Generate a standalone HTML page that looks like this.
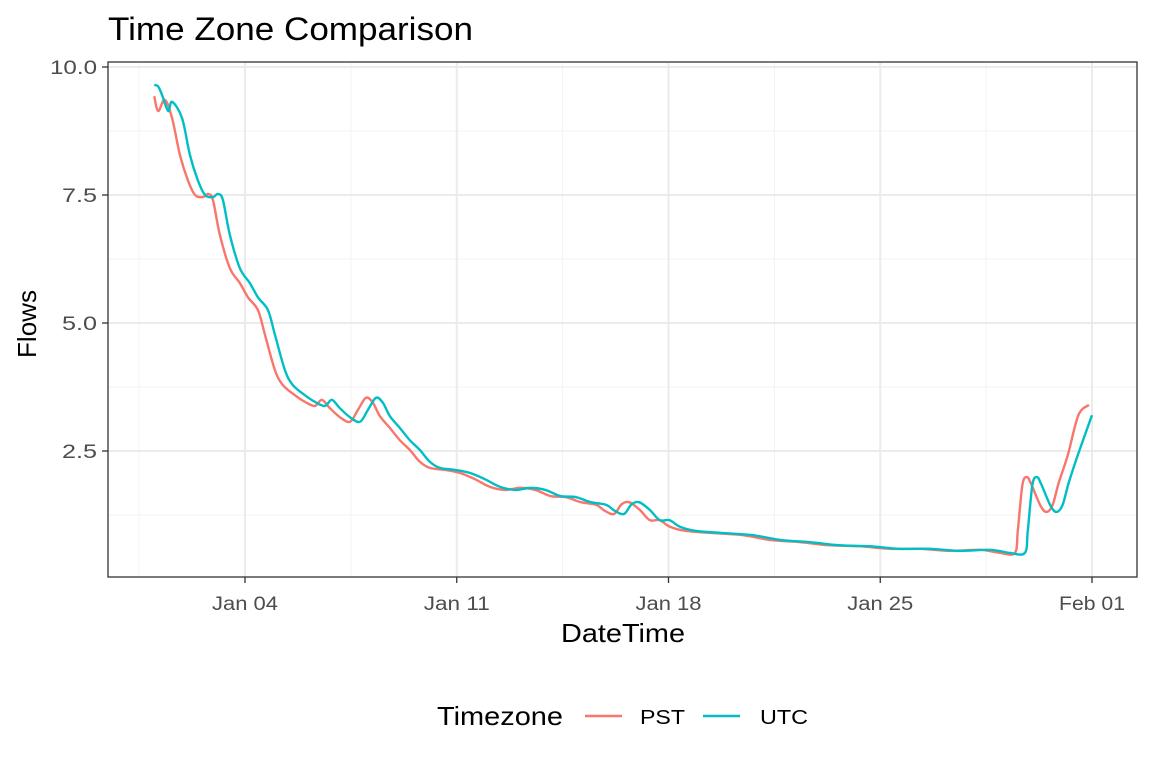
<!DOCTYPE html>
<html><head><meta charset="utf-8"><style>
body{margin:0;background:#fff;font-family:"Liberation Sans",sans-serif}
</style></head><body>
<svg id="chart" width="1152" height="768" xmlns="http://www.w3.org/2000/svg">
<rect width="1152" height="768" fill="#fff"/>
<text x="108" y="40" font-size="32" textLength="365" lengthAdjust="spacingAndGlyphs" fill="#000">Time Zone Comparison</text>
<g id="grid"></g>
<g id="lines"></g>
<rect x="108" y="62" width="1029" height="515" fill="none" stroke="#333" stroke-width="1.3"/>
<g id="axes"></g>
<text x="561" y="642" font-size="26" textLength="124" lengthAdjust="spacingAndGlyphs">DateTime</text>
<text transform="translate(36,358) rotate(-90)" font-size="26" textLength="68" lengthAdjust="spacingAndGlyphs">Flows</text>
<g>
<text x="437" y="725" font-size="26" textLength="126" lengthAdjust="spacingAndGlyphs">Timezone</text>
<g><line x1="585" y1="716" x2="622" y2="716" stroke="#F8766D" stroke-width="2.5"/><text x="640" y="724" font-size="20" textLength="45" lengthAdjust="spacingAndGlyphs">PST</text></g>
<g><line x1="703" y1="716" x2="740" y2="716" stroke="#00BFC4" stroke-width="2.5"/><text x="760" y="724" font-size="20" textLength="48" lengthAdjust="spacingAndGlyphs">UTC</text></g>
</g>
</svg>
<script>
const yTicks=[2.5,5.0,7.5,10.0];
const yTickLabels=["2.5","5.0","7.5","10.0"];
const yMinor=[1.25,3.75,6.25,8.75];
const xTickDays=[3,10,17,24,31];
const xTickLabels=["Jan 04","Jan 11","Jan 18","Jan 25","Feb 01"];
const xMinorDays=[-0.5,6.5,13.5,20.5,27.5];
const pstDays=[0,0.13,0.35,0.59,0.85,1.11,1.35,1.61,1.78,1.94,2.17,2.5,2.83,3.1,3.43,3.66,3.99,4.25,4.65,4.98,5.31,5.54,5.8,6.14,6.47,6.73,7.0,7.23,7.46,7.79,8.12,8.45,8.78,9.11,9.61,10.11,10.6,11.1,11.6,12.1,12.6,13.1,13.6,14.1,14.6,14.9,15.2,15.45,15.7,16.05,16.38,16.7,17.05,17.55,18.4,19.4,20.4,21.35,22.3,23.3,24.3,25.3,26.3,27.3,27.96,28.45,28.55,28.7,28.85,29.0,29.3,29.5,29.7,29.9,30.2,30.55,30.9];
const pstValues=[9.43,9.14,9.36,9.0,8.28,7.79,7.5,7.46,7.52,7.4,6.72,6.07,5.78,5.5,5.25,4.77,4.08,3.79,3.59,3.46,3.38,3.5,3.34,3.16,3.07,3.3,3.54,3.44,3.18,2.95,2.71,2.52,2.29,2.17,2.13,2.07,1.95,1.8,1.74,1.78,1.74,1.62,1.6,1.5,1.45,1.33,1.27,1.46,1.5,1.35,1.15,1.15,1.02,0.94,0.9,0.86,0.76,0.72,0.66,0.64,0.59,0.59,0.55,0.57,0.51,0.51,0.96,1.84,1.99,1.84,1.43,1.31,1.45,1.88,2.42,3.2,3.4];
const utcDays=[0,0.13,0.26,0.46,0.59,0.92,1.18,1.44,1.68,1.94,2.11,2.27,2.5,2.83,3.16,3.43,3.76,3.99,4.32,4.58,4.98,5.31,5.64,5.87,6.13,6.47,6.8,7.06,7.33,7.56,7.79,8.12,8.45,8.78,9.11,9.44,9.94,10.44,10.93,11.43,11.93,12.43,12.93,13.43,13.93,14.43,14.93,15.23,15.53,15.78,16.03,16.38,16.71,17.03,17.38,17.88,18.73,19.73,20.73,21.68,22.63,23.63,24.63,25.63,26.63,27.63,28.29,28.78,28.88,29.03,29.18,29.33,29.63,29.83,30.03,30.23,30.53,31.0];
const utcValues=[9.65,9.62,9.45,9.14,9.32,9.0,8.28,7.79,7.5,7.46,7.52,7.4,6.72,6.07,5.78,5.5,5.25,4.77,4.08,3.79,3.59,3.46,3.38,3.5,3.34,3.16,3.07,3.3,3.54,3.44,3.18,2.95,2.71,2.52,2.29,2.17,2.13,2.07,1.95,1.8,1.74,1.78,1.74,1.62,1.6,1.5,1.45,1.33,1.27,1.46,1.5,1.35,1.15,1.15,1.02,0.94,0.9,0.86,0.76,0.72,0.66,0.64,0.59,0.59,0.55,0.57,0.51,0.51,0.96,1.84,1.99,1.84,1.43,1.31,1.45,1.88,2.42,3.2];

const NS="http://www.w3.org/2000/svg";
const X=d=>154.25+d*30.25;
const Y=v=>579-v*51.2;
function mk(tag,attrs,parent){const e=document.createElementNS(NS,tag);for(const k in attrs)e.setAttribute(k,attrs[k]);parent.appendChild(e);return e;}
const grid=document.getElementById('grid'),axes=document.getElementById('axes'),lines=document.getElementById('lines');
yMinor.forEach(v=>{const l=mk('line',{x1:108,x2:1137,y1:Y(v),y2:Y(v),stroke:'#f3f3f3','stroke-width':1},grid);

});
xMinorDays.forEach(d=>{const l=mk('line',{x1:X(d),x2:X(d),y1:62,y2:577,stroke:'#f3f3f3','stroke-width':1},grid);

});
yTicks.forEach((v,i)=>{const l=mk('line',{x1:108,x2:1137,y1:Y(v),y2:Y(v),stroke:'#ebebeb','stroke-width':2},grid);


const t=mk('line',{x1:102,x2:108,y1:Y(v),y2:Y(v),stroke:'#333','stroke-width':1.3},axes);


const lab=yTickLabels[i];
const tx=mk('text',{x:97,y:Y(v)+7,'font-size':19,'text-anchor':'end',fill:'#4d4d4d',textLength:lab.length>3?47:35,lengthAdjust:'spacingAndGlyphs'},axes);tx.textContent=lab;

});
xTickDays.forEach((d,i)=>{const l=mk('line',{x1:X(d),x2:X(d),y1:62,y2:577,stroke:'#ebebeb','stroke-width':2},grid);


const t=mk('line',{x1:X(d),x2:X(d),y1:577,y2:583,stroke:'#333','stroke-width':1.3},axes);


const tx=mk('text',{x:X(d),y:610,'font-size':19,'text-anchor':'middle',fill:'#4d4d4d',textLength:66,lengthAdjust:'spacingAndGlyphs'},axes);tx.textContent=xTickLabels[i];

});
function path(ds,vs){const p=ds.map((d,i)=>[X(d),Y(vs[i])]);let s=`M${p[0][0]},${p[0][1]}`;
for(let i=0;i<p.length-1;i++){const a=p[Math.max(0,i-1)],b=p[i],c=p[i+1],e=p[Math.min(p.length-1,i+2)];
s+=` C${b[0]+(c[0]-a[0])/6},${b[1]+(c[1]-a[1])/6} ${c[0]-(e[0]-b[0])/6},${c[1]-(e[1]-b[1])/6} ${c[0]},${c[1]}`;}return s;}
const pl=mk('path',{d:path(pstDays,pstValues),fill:'none',stroke:'#F8766D','stroke-width':2.4},lines);


const ul=mk('path',{d:path(utcDays,utcValues),fill:'none',stroke:'#00BFC4','stroke-width':2.4},lines);


</script>
</body></html>
